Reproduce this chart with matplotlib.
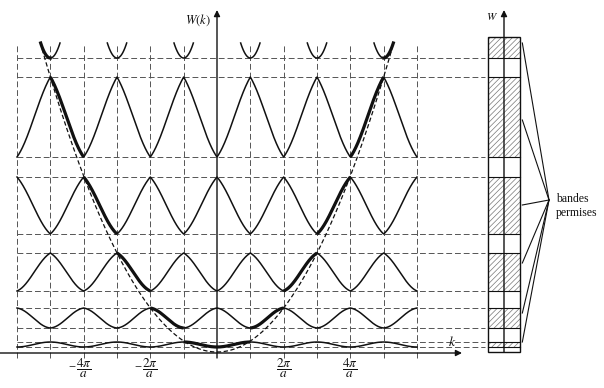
import numpy as np
import matplotlib
matplotlib.use("Agg")
import matplotlib.pyplot as plt
from matplotlib.patches import Rectangle

plt.rcParams['mathtext.fontset'] = 'stix'
plt.rcParams['font.family'] = ['Liberation Serif', 'DejaVu Serif']
plt.rcParams['hatch.linewidth'] = 0.5

# band edges (W units, k axis at W = 0), k in units of pi/a
band_min = [6, 25, 62, 119, 196]
band_max = [11, 45, 100, 176, 276]
band_cos_weight = [1.0, 0.8, 0.55, 0.4, 0.35]
band6_min = 295
band6_top = 310
band6_halfwidth = 0.29
free_coef = 11.0      # free electron parabola W = c k^2 + W0
free_w0 = 1.0
k_ticks = [-4, -2, 2, 4]
k_tick_labels = [r'$\dfrac{4\pi}{a}$', r'$\dfrac{2\pi}{a}$', r'$\dfrac{2\pi}{a}$', r'$\dfrac{4\pi}{a}$']
box_bottom, box_top = 1, 316
pointer_W = [310, 233, 148, 90, 40, 11]
INK = '#111111'
GUIDE = '#555555'


def band_curve(n, k):
    # nearly free electron band n drawn in the repeated zone scheme
    q = np.abs(k - 2 * np.round(k / 2))
    if n % 2 == 1:
        kk = (n - 1) + q
        c = (1 - np.cos(np.pi * q)) / 2
    else:
        kk = n - q
        c = (1 + np.cos(np.pi * q)) / 2
    t = (kk ** 2 - (n - 1) ** 2) / (n ** 2 - (n - 1) ** 2)
    w = band_cos_weight[n - 1]
    s = w * c + (1 - w) * t
    return band_min[n - 1] + s * (band_max[n - 1] - band_min[n - 1])


fig = plt.figure(figsize=(6.04, 3.88), dpi=100)
ax = fig.add_axes([0, 0, 1, 1])
ax.set_xlim(-6.51, 11.61)
ax.set_ylim(-35, 353)
ax.axis('off')

guide = dict(color=GUIDE, lw=0.7, dashes=(6, 3))
# vertical guides at multiples of pi/a
for kv in range(-6, 7):
    if kv != 0:
        ax.plot([kv, kv], [-5, band6_top], **guide)
# horizontal guides at band edges
levels = sorted(band_min + band_max + [band6_min])
box_x0, box_x1 = 8.13, 9.09
for lv in levels:
    ax.plot([-6, box_x0 - 0.09], [lv, lv], **guide)

# bands
k = np.linspace(-6, 6, 2401)
for n in range(1, 6):
    W = band_curve(n, k)
    ax.plot(k, W, color=INK, lw=1.1)
    hi = (np.abs(k) >= n - 1) & (np.abs(k) <= n)
    for sgn in (-1, 1):
        m = hi & (np.sign(k) * sgn >= 0)
        ax.plot(k[m], W[m], color=INK, lw=2.3, solid_capstyle='butt')

# band 6 bottoms around odd multiples
for ko in range(-5, 6, 2):
    dk = np.linspace(-band6_halfwidth, band6_halfwidth, 60)
    W6 = band6_min + (band6_top - band6_min) * (dk / band6_halfwidth) ** 2
    ax.plot(ko + dk, W6, color=INK, lw=1.1)
    if abs(ko) == 5:
        m = np.sign(ko) * dk >= 0
        ax.plot(ko + dk[m], W6[m], color=INK, lw=2.3)

# free electron parabola
kf = np.sqrt((band6_top - free_w0) / free_coef) * 0.99
kp = np.linspace(-kf, kf, 400)
ax.plot(kp, free_coef * kp ** 2 + free_w0, color=INK, lw=0.9, dashes=(3.5, 2))

# axes
ax.annotate('', xy=(7.35, 0), xytext=(-6.51, 0),
            arrowprops=dict(arrowstyle='-|>', lw=1.0, color=INK, mutation_scale=9,
                            shrinkA=0, shrinkB=0))
ax.annotate('', xy=(0, 343), xytext=(0, -5),
            arrowprops=dict(arrowstyle='-|>', lw=1.0, color=INK, mutation_scale=9,
                            shrinkA=0, shrinkB=0))
ax.text(-0.57, 333, r'$W(k)$', ha='center', va='center', fontsize=9, color=INK)
ax.text(7.05, 11, r'$k$', ha='center', va='center', fontsize=10, color=INK)
for kt, lab in zip(k_ticks, k_tick_labels):
    ax.text(kt, -15, lab, ha='center', va='center', fontsize=9.5, color=INK)
    if kt < 0:
        ax.text(kt - 0.36, -15, '\u2212', ha='center', va='center', fontsize=9, color=INK)

# allowed bands column
bands_all = list(zip(band_min, band_max)) + [(band6_min, box_top)]
for lo, hi_ in bands_all:
    ax.add_patch(Rectangle((box_x0, lo), box_x1 - box_x0, hi_ - lo, facecolor='none',
                           edgecolor='#777777', hatch='//////', lw=0))
ax.add_patch(Rectangle((box_x0, box_bottom), box_x1 - box_x0, box_top - box_bottom,
                       facecolor='none', edgecolor=INK, lw=1.0))
for lv in levels:
    ax.plot([box_x0, box_x1], [lv, lv], color=INK, lw=0.8)
xc = (box_x0 + box_x1) / 2
ax.annotate('', xy=(xc, 343), xytext=(xc, box_bottom),
            arrowprops=dict(arrowstyle='-|>', lw=1.0, color=INK, mutation_scale=9,
                            shrinkA=0, shrinkB=0))
ax.text(xc - 0.36, 336, r'$W$', ha='center', va='center', fontsize=8, color=INK)

# pointers to text
tip = (9.96, 153)
for pw in pointer_W:
    ax.plot([box_x1 + 0.07, tip[0]], [pw, tip[1]], color=INK, lw=0.8)
ax.text(10.17, 147, 'bandes\npermises', ha='left', va='center', fontsize=8.5,
        color=INK, linespacing=1.15)

fig.savefig('out.png', dpi=100)
